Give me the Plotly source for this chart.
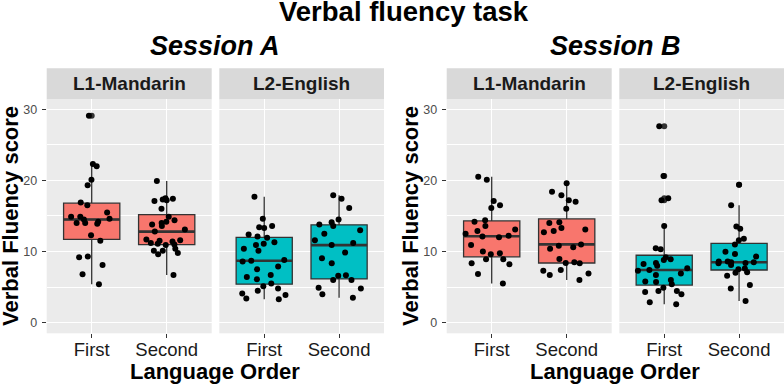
import numpy as np
import plotly.graph_objects as go

# ---------------- data ----------------
sessions = ["Session A", "Session B"]
languages = ["L1-Mandarin", "L2-English"]
orders = ["First", "Second"]
colors = {"L1-Mandarin": "#F8766D", "L2-English": "#00BFC4"}

A_L1_First = [29.1, 22.0, 22.3, 20.1, 19.3, 16.9, 16.5, 15.5, 14.9, 14.6, 14.5, 14.9,
              14.0, 14.0, 13.9, 14.2, 12.3, 11.5, 9.2, 9.3, 8.1, 6.8, 5.4]
A_L1_Second = [19.9, 17.1, 17.2, 17.5, 17.4, 17.3, 16.0, 14.4, 14.2, 14.9, 13.8, 13.6,
               14.0, 13.1, 12.8, 11.6, 11.7, 11.5, 11.4, 11.2, 11.1, 10.9, 11.0, 10.4,
               10.1, 10.1, 9.8, 9.6, 6.7]
A_L2_First = [17.7, 14.6, 13.3, 13.4, 13.6, 11.95, 12.1, 12.4, 11.1, 11.3, 10.9, 10.4,
              10.1, 8.6, 8.8, 8.7, 7.9, 7.5, 6.7, 6.4, 6.1, 5.5, 5.1, 4.8, 4.5, 4.1,
              3.9, 3.4, 3.3]
A_L2_Second = [17.9, 17.4, 16.1, 14.5, 14.1, 13.8, 13.6, 13.0, 12.5, 11.6, 11.2, 10.9,
               9.85, 9.05, 8.35, 6.65, 6.6, 6.0, 6.0, 4.9, 4.8, 4.0, 3.5]
B_L1_First = [20.1, 20.5, 16.5, 16.1, 17.1, 14.4, 14.2, 13.6, 12.9, 13.1, 12.5, 12.1,
              12.0, 12.2, 10.9, 10.0, 9.75, 9.6, 8.9, 8.9, 8.2, 8.35, 6.85, 5.5]
B_L1_Second = [19.6, 18.4, 17.9, 17.2, 17.0, 16.0, 14.0, 14.1, 13.3, 13.1, 12.9, 12.7,
               11.0, 10.8, 10.6, 10.4, 8.95, 8.4, 8.35, 8.5, 6.9, 6.7, 7.4, 7.3, 6.0]
B_L2_First = [27.6, 20.6, 17.5, 17.2, 13.6, 10.45, 10.3, 9.2, 8.8, 8.9, 8.25, 8.0,
              8.4, 7.65, 7.4, 7.3, 6.9, 6.7, 6.0, 5.7, 5.4, 5.8, 4.9, 4.45, 4.45, 4.3,
              4.0, 2.85, 2.6]
B_L2_Second = [19.4, 16.5, 13.5, 13.2, 11.6, 11.8, 11.0, 9.95, 9.65, 9.3, 8.5, 8.6,
               8.4, 8.5, 8.6, 8.1, 8.35, 7.6, 7.5, 7.1, 7.0, 6.6, 5.3, 4.8, 3.05]

data = {
    ("Session A", "L1-Mandarin"): [A_L1_First, A_L1_Second],
    ("Session A", "L2-English"): [A_L2_First, A_L2_Second],
    ("Session B", "L1-Mandarin"): [B_L1_First, B_L1_Second],
    ("Session B", "L2-English"): [B_L2_First, B_L2_Second],
}

y_ticks = [0, 10, 20, 30]
title_text = "Verbal fluency task"
y_title = "Verbal Fluency score"
x_title = "Language Order"

# ---------------- layout geometry (pixels) ----------------
W, H = 784, 384
FONT = "Liberation Sans, Arial, sans-serif"


def px(x):
    return x / W


def py(y):
    return 1 - y / H


panel_px = [(46.7, 211.7), (219.3, 384.0), (446.7, 611.7), (619.3, 784.0)]
panel_top, panel_bot = 99.3, 333.3
strip_top = 68.3

fig = go.Figure()
layout = dict(
    width=W, height=H, margin=dict(l=0, r=0, t=0, b=0),
    paper_bgcolor="white", plot_bgcolor="#EBEBEB",
    showlegend=False, boxmode="overlay",
    shapes=[], annotations=[],
)

k = 0
for s in sessions:
    for lang in languages:
        k += 1
        xa = "x" if k == 1 else f"x{k}"
        ya = "y" if k == 1 else f"y{k}"
        col = colors[lang]
        for i, vals in enumerate(data[(s, lang)]):
            xs = [i] * len(vals)
            # box with outliers at centre
            fig.add_trace(go.Box(
                x=xs, y=vals, xaxis=xa, yaxis=ya, width=0.75,
                fillcolor=col, line=dict(color="#333333", width=1.3),
                whiskerwidth=0, boxpoints="outliers", jitter=0, pointpos=0,
                marker=dict(color="#333333", size=6), hoverinfo="skip",
            ))
            # thicker median line
            m = float(np.median(vals))
            fig.add_trace(go.Box(
                x=[i], q1=[m], median=[m], q3=[m], lowerfence=[m], upperfence=[m],
                xaxis=xa, yaxis=ya, width=0.75, boxpoints=False,
                fillcolor="rgba(0,0,0,0)", line=dict(color="#333333", width=2.6),
                whiskerwidth=0, hoverinfo="skip",
            ))
            # jittered points
            fig.add_trace(go.Box(
                x=xs, y=vals, xaxis=xa, yaxis=ya, width=0.75,
                fillcolor="rgba(0,0,0,0)", line=dict(color="rgba(0,0,0,0)", width=0),
                whiskerwidth=0, boxpoints="all", jitter=1, pointpos=0,
                marker=dict(color="black", size=6), hoverinfo="skip",
            ))

        x0, x1 = panel_px[k - 1]
        first_in_session = lang == languages[0]
        layout["xaxis" if k == 1 else f"xaxis{k}"] = dict(
            domain=[px(x0), px(x1)], anchor=ya, type="linear",
            range=[-0.6, 1.6], tickvals=[0, 1], ticktext=orders,
            showgrid=True, gridcolor="white", gridwidth=1.2, zeroline=False,
            ticks="outside", ticklen=4, tickcolor="#333333", tickwidth=1,
            tickfont=dict(family=FONT, size=18.5, color="#1A1A1A"),
            ticklabelstandoff=-5, fixedrange=True,
        )
        layout["yaxis" if k == 1 else f"yaxis{k}"] = dict(
            domain=[py(panel_bot), py(panel_top)], anchor=xa, type="linear",
            range=[-1.5, 31.4], tickvals=y_ticks,
            showgrid=True, gridcolor="white", gridwidth=1.2, zeroline=False,
            minor=dict(tickvals=[5, 15, 25], showgrid=True, gridcolor="white",
                       gridwidth=0.6, ticks=""),
            ticks="outside" if first_in_session else "", ticklen=4,
            tickcolor="#333333", tickwidth=1,
            showticklabels=first_in_session,
            tickfont=dict(family=FONT, size=12.5, color="#4D4D4D"),
            ticklabelstandoff=2, fixedrange=True,
        )
        # strip
        layout["shapes"].append(dict(
            type="rect", xref="paper", yref="paper",
            x0=px(x0), x1=px(x1), y0=py(panel_top), y1=py(strip_top),
            fillcolor="#D9D9D9", line=dict(width=0), layer="below",
        ))
        layout["annotations"].append(dict(
            text=f"<b>{lang}</b>", xref="paper", yref="paper",
            x=px((x0 + x1) / 2), y=py((panel_top + strip_top) / 2),
            xanchor="center", yanchor="middle", showarrow=False,
            font=dict(family=FONT, size=19, color="#1A1A1A"),
        ))

# session titles, axis titles
for j, s in enumerate(sessions):
    left = panel_px[2 * j][0]
    right = panel_px[2 * j + 1][1]
    cx = (left + right) / 2
    layout["annotations"].append(dict(
        text=f"<b><i>{s}</i></b>", xref="paper", yref="paper",
        x=px(cx), y=py(45.7), xanchor="center", yanchor="middle", showarrow=False,
        font=dict(family=FONT, size=27, color="black"),
    ))
    layout["annotations"].append(dict(
        text=f"<b>{x_title}</b>", xref="paper", yref="paper",
        x=px(cx), y=py(371.5), xanchor="center", yanchor="middle", showarrow=False,
        font=dict(family=FONT, size=22, color="black"), borderpad=0,
    ))
    layout["annotations"].append(dict(
        text=f"<b>{y_title}</b>", xref="paper", yref="paper",
        x=px(left - 36), y=py((panel_top + panel_bot) / 2),
        xanchor="center", yanchor="middle", showarrow=False, textangle=-90,
        font=dict(family=FONT, size=22, color="black"), borderpad=0,
    ))

layout["annotations"].append(dict(
    text=f"<b>{title_text}</b>", xref="paper", yref="paper",
    x=px(404), y=py(11.5), xanchor="center", yanchor="middle", showarrow=False,
    font=dict(family=FONT, size=27.5, color="black"), borderpad=0,
))

fig.update_layout(**layout)
fig.write_html("out.html")
